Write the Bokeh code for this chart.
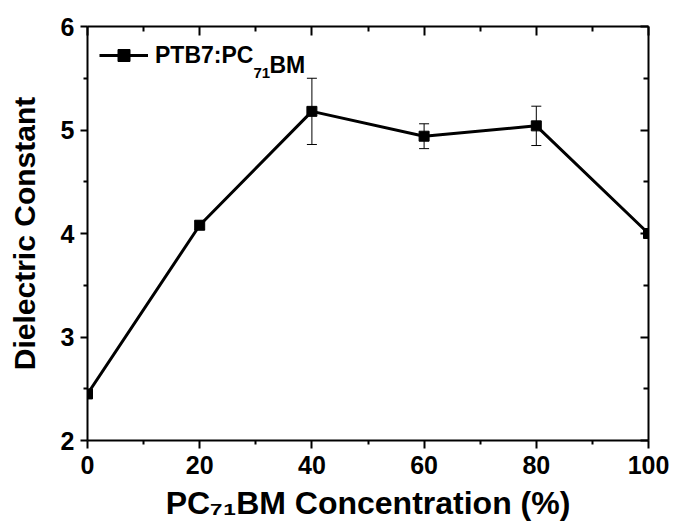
import numpy as np
from bokeh.plotting import figure
from bokeh.models import (ColumnDataSource, Range1d, LinearAxis, FixedTicker, Whisker,
                          TeeHead, Legend, LegendItem, Label, CustomJSTickFormatter)
from bokeh.embed import file_html
from bokeh.resources import INLINE

# ---- data ----
concentration = [0, 20, 40, 60, 80, 100]
dielectric = [2.45, 4.08, 5.18, 4.94, 5.04, 4.00]
error = [0.0, 0.04, 0.32, 0.12, 0.19, 0.0]

x_major = [0, 20, 40, 60, 80, 100]
x_minor = [10, 30, 50, 70, 90]
y_major = [2, 3, 4, 5, 6]
y_minor = [2.5, 3.5, 4.5, 5.5]

x_title = "PC\u2087\u2081BM Concentration (%)"
y_title = "Dielectric Constant"

FONT = "Liberation Sans"

p = figure(width=673, height=531, output_backend="svg", toolbar_location=None,
           x_range=Range1d(0, 100), y_range=Range1d(2, 6),
           min_border_left=87, min_border_right=25, min_border_top=26, min_border_bottom=91)
p.xgrid.visible = False
p.ygrid.visible = False
p.outline_line_color = None
p.background_fill_color = "white"
p.border_fill_color = "white"

src = ColumnDataSource(dict(x=concentration, y=dielectric))
line_r = p.line("x", "y", source=src, line_color="black", line_width=3)
pts_r = p.scatter("x", "y", source=src, marker="square", size=10,
                  fill_color="black", line_color="black")

ex = [c for c, e in zip(concentration, error) if e > 0]
eu = [d + e for d, e in zip(dielectric, error) if e > 0]
el = [d - e for d, e in zip(dielectric, error) if e > 0]
esrc = ColumnDataSource(dict(x=ex, upper=eu, lower=el))
wh = Whisker(source=esrc, base="x", upper="upper", lower="lower", dimension="height",
             line_color="black", line_width=1,
             upper_head=TeeHead(size=10, line_width=1, line_color="black"),
             lower_head=TeeHead(size=10, line_width=1, line_color="black"))
p.add_layout(wh)

def style(ax, ticks, minor, outward, tick_len, label=True):
    ax.ticker = FixedTicker(ticks=ticks, minor_ticks=minor)
    ax.axis_line_width = 2
    ax.axis_line_color = "black"
    ax.major_tick_line_width = 2
    ax.minor_tick_line_width = 2
    ax.major_tick_line_color = "black"
    ax.minor_tick_line_color = "black"
    if outward:
        ax.major_tick_out = tick_len
        ax.major_tick_in = 0
        ax.minor_tick_out = 4
        ax.minor_tick_in = 0
    else:
        ax.major_tick_out = 0
        ax.major_tick_in = tick_len
        ax.minor_tick_out = 0
        ax.minor_tick_in = 5
    if label:
        ax.major_label_text_font = FONT
        ax.major_label_text_font_style = "bold"
        ax.major_label_text_font_size = "25px"
        ax.major_label_text_color = "black"
        ax.axis_label_text_font = FONT
        ax.axis_label_text_font_style = "bold"
        ax.axis_label_text_color = "black"
    else:
        ax.formatter = CustomJSTickFormatter(code="return ''")
        ax.major_label_text_font_size = "8px"
        ax.major_label_standoff = 0

xa = p.xaxis[0]
style(xa, x_major, x_minor, True, 8)
xa.major_label_standoff = 7
xa.axis_label = x_title
xa.axis_label_text_font_size = "32px"
xa.axis_label_standoff = 8

ya = p.yaxis[0]
style(ya, y_major, y_minor, True, 7)
ya.major_label_standoff = 6
ya.axis_label = y_title
ya.axis_label_text_font_size = "30px"
ya.axis_label_standoff = 17

top = LinearAxis()
style(top, x_major, x_minor, False, 9, label=False)
p.add_layout(top, "above")
right = LinearAxis()
style(right, y_major, y_minor, False, 8, label=False)
p.add_layout(right, "right")

# legend
legend = Legend(items=[LegendItem(label="PTB7:PC", renderers=[line_r, pts_r])],
                location=(12, 370), padding=0, margin=0, glyph_width=49, glyph_height=30,
                label_height=30, label_standoff=7, border_line_alpha=0,
                background_fill_alpha=0, label_text_font=FONT, label_text_font_style="bold",
                label_text_font_size="23px", label_text_color="black")
p.add_layout(legend)

def lab(txt, x, y, size):
    p.add_layout(Label(text=txt, x=x, y=y, x_units="screen", y_units="screen",
                       text_font=FONT, text_font_style="bold", text_font_size=size,
                       text_color="black", text_align="left", text_baseline="alphabetic"))

lab("71", 166, 368, "15px")
lab("BM", 182, 376, "23px")

open("out.html", "w").write(file_html(p, INLINE))
